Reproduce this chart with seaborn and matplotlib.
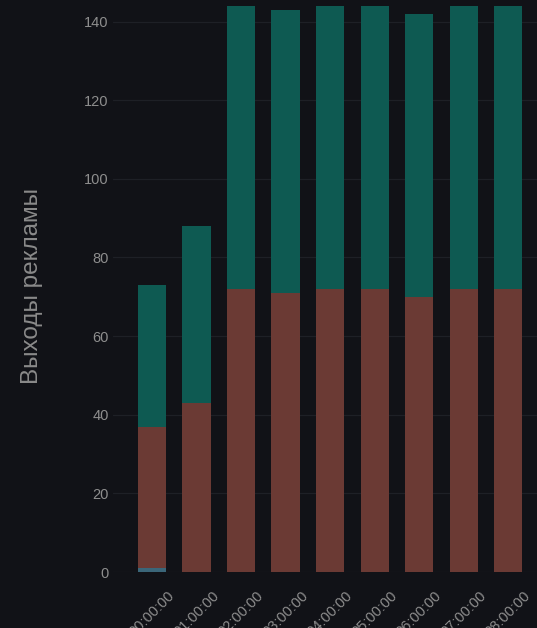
import numpy as np
import pandas as pd
import matplotlib
matplotlib.use("Agg")
import matplotlib.pyplot as plt
import seaborn as sns

# data
hours = ["00:00:00", "01:00:00", "02:00:00", "03:00:00", "04:00:00",
         "05:00:00", "06:00:00", "07:00:00", "08:00:00"]
blue_vals = [1, 0, 0, 0, 0, 0, 0, 0, 0]
red_vals = [36, 43, 72, 71, 72, 72, 70, 72, 72]
green_vals = [36, 45, 72, 72, 72, 72, 72, 72, 72]

df = pd.DataFrame({"hour": hours, "blue": blue_vals, "red": red_vals, "green": green_vals})
df["lvl_red"] = df["blue"] + df["red"]
df["lvl_green"] = df["lvl_red"] + df["green"]

bg = "#111217"
sns.set_theme(style="dark")
plt.rcParams["font.family"] = ["Liberation Sans", "DejaVu Sans"]

fig = plt.figure(figsize=(5.37, 6.28), dpi=100, facecolor=bg)
ax = fig.add_axes([113 / 537, 56 / 628, 1 - 113 / 537, 572 / 628])
ax.set_facecolor(bg)

w = 0.63
sns.barplot(data=df, x="hour", y="lvl_green", color="#0e5a52", saturation=1,
            width=w, linewidth=0, ax=ax)
sns.barplot(data=df, x="hour", y="lvl_red", color="#6b3a34", saturation=1,
            width=w, linewidth=0, ax=ax)
sns.barplot(data=df, x="hour", y="blue", color="#3b6679", saturation=1,
            width=w, linewidth=0, ax=ax)

ax.set_ylim(0, 145.5)
ax.set_xlim(-0.876, 8.65)
ax.set_yticks([0, 20, 40, 60, 80, 100, 120, 140])
ax.grid(axis="y", color="#1e2026", linewidth=0.9)
ax.grid(axis="x", visible=False)
ax.set_axisbelow(True)
for s in ax.spines.values():
    s.set_visible(False)

ax.tick_params(axis="y", colors="#8e8e8e", labelsize=10.5, length=0, pad=3)
ax.tick_params(axis="x", colors="#8e8e8e", labelsize=10.5, length=0, pad=12)
plt.setp(ax.get_xticklabels(), rotation=45, ha="center", va="top")

ax.set_xlabel("")
ax.set_ylabel("Выходы рекламы", color="#8a8a8a", fontsize=17.5, labelpad=30)

fig.savefig("out.png", dpi=100, facecolor=bg)
